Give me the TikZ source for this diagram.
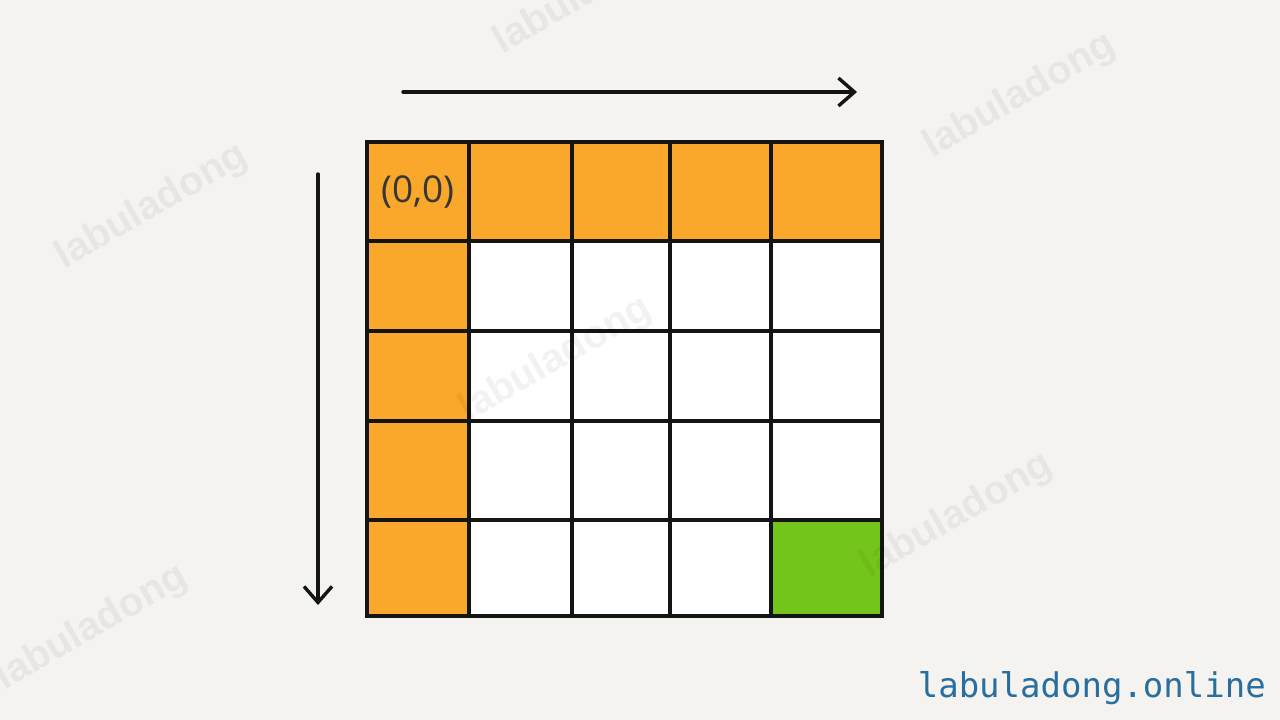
\documentclass[tikz,border=0pt]{standalone}
\usepackage{fontspec}
\setmainfont{Open Sans}
\setsansfont{Liberation Sans}
\setmonofont{DejaVu Sans Mono}
\usetikzlibrary{arrows.meta}
\definecolor{bg}{RGB}{245,243,239}
\definecolor{cellorange}{RGB}{249,168,43}
\definecolor{cellgreen}{RGB}{116,197,27}
\definecolor{linkblue}{RGB}{40,110,160}
\definecolor{ink}{RGB}{20,20,20}
\tikzset{
  cell/.style={draw=ink, line width=3.6pt, inner sep=0pt, outer sep=0pt},
  dirarrow/.style={draw=ink, line width=3.4pt, line cap=round,
    -{Straight Barb[length=16pt,width=28pt,line width=3.4pt]}},
  watermark/.style={text=black, text opacity=0.05, rotate=30, font=\sffamily\bfseries\fontsize{40}{48}\selectfont},
  coordlabel/.style={text=ink!85, font=\fontsize{37}{44}\selectfont},
  sitelabel/.style={text=linkblue, font=\ttfamily\fontsize{34}{40}\selectfont, anchor=base east, inner sep=0pt}
}
\begin{document}
\begin{tikzpicture}[x=1pt,y=-1pt]
\fill[bg] (0,0) rectangle (1280,720);
\useasboundingbox (0,0) rectangle (1280,720);
% grid
\foreach \r/\ya/\yb in {0/142/241,1/241/331,2/331/421,3/421/520,4/520/616}{
  \foreach \c/\xa/\xb in {0/367/469,1/469/572,2/572/670,3/670/771,4/771/882}{
    \def\fc{white}
    \ifnum\r=0 \def\fc{cellorange}\fi
    \ifnum\c=0 \def\fc{cellorange}\fi
    \ifnum\r=4 \ifnum\c=4 \def\fc{cellgreen}\fi\fi
    \pgfmathsetmacro\w{\xb-\xa}
    \pgfmathsetmacro\h{\yb-\ya}
    \pgfmathsetmacro\cx{(\xa+\xb)/2}
    \pgfmathsetmacro\cy{(\ya+\yb)/2}
    \node[cell, fill=\fc, minimum width=\w pt, minimum height=\h pt] (c\r\c) at (\cx,\cy) {};
  }
}
\node[coordlabel] (origin) at ([yshift=-1pt]c00) {(0,0)};
% arrows
\coordinate (hs) at (403,92);
\coordinate (he) at (857,92);
\coordinate (vs) at (318,174);
\coordinate (ve) at (318,605);
\draw[dirarrow] (hs) -- (he);
\draw[dirarrow] (vs) -- (ve);
% watermarks
\node[watermark] (wm1) at (152,207) {labuladong};
\node[watermark] (wm2) at (1020,96) {labuladong};
\node[watermark] (wm3) at (556,360) {labuladong};
\node[watermark] (wm4) at (957,516) {labuladong};
\node[watermark] (wm5) at (92,628) {labuladong};
\node[watermark] (wm6) at (590,-8) {labuladong};
% site label
\node[sitelabel] (site) at (1266,697) {labuladong.online};
\end{tikzpicture}
\end{document}
